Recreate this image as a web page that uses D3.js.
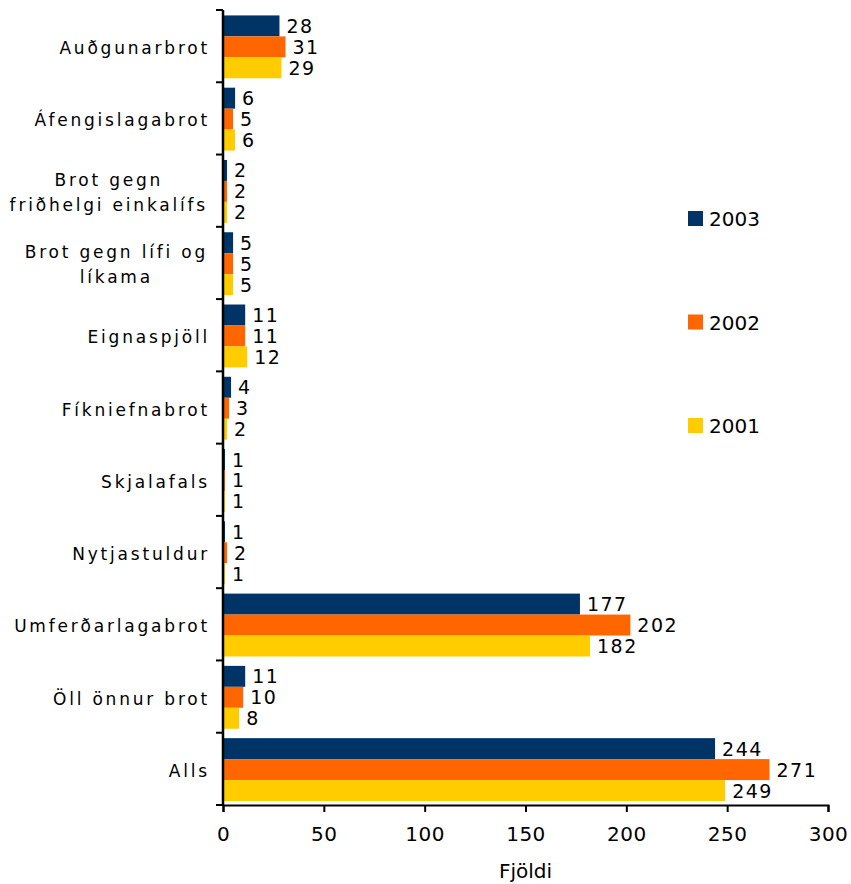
<!DOCTYPE html>
<html>
<head>
<meta charset="utf-8">
<script src="https://cdn.jsdelivr.net/npm/d3@7"></script>
<style>
  body { margin: 0; background: #fff; }
  text { font-family: 'DejaVu Sans', Verdana, sans-serif; fill: #000; }
</style>
</head>
<body>
<script>
const categories = ['Auðgunarbrot', 'Áfengislagabrot', 'Brot gegn\nfriðhelgi einkalífs', 'Brot gegn lífi og\nlíkama',
                    'Eignaspjöll', 'Fíkniefnabrot', 'Skjalafals', 'Nytjastuldur', 'Umferðarlagabrot', 'Öll önnur brot', 'Alls'];
const years = ['2003', '2002', '2001'];
const values2003 = [28, 6, 2, 5, 11, 4, 1, 1, 177, 11, 244],
      values2002 = [31, 5, 2, 5, 11, 3, 1, 2, 202, 10, 271],
      values2001 = [29, 6, 2, 5, 12, 2, 1, 1, 182, 8, 249];
const xTicks = [0, 50, 100, 150, 200, 250, 300];
const xTitle = 'Fjöldi';

const seriesValues = { '2003': values2003, '2002': values2002, '2001': values2001 };
const colors = { '2003': '#003366', '2002': '#ff6600', '2001': '#ffcc00' };

const width = 851,
      height = 884,
      plotLeft = 223,
      plotRight = 828,
      plotTop = 10,
      plotBottom = 805;

const x = d3.scaleLinear().domain([0, 300]).range([plotLeft, plotRight]);
const y0 = d3.scaleBand().domain(categories).range([plotTop, plotBottom]);
const y1 = d3.scaleBand().domain(years).range([y0.bandwidth() * 0.075, y0.bandwidth() * 0.945]);

const svg = d3.select('body').append('svg')
              .attr('width', width)
              .attr('height', height);

const rows = [];
categories.forEach(function(c, i) {
  years.forEach(function(yr) {
    rows.push({ cat: c, year: yr, value: seriesValues[yr][i] });
  });
});

svg.append('g').selectAll('rect')
   .data(rows)
   .enter()
   .append('rect')
   .attr('x', x(0))
   .attr('y', function(d) { return y0(d.cat) + y1(d.year); })
   .attr('width', function(d) { return x(d.value) - x(0); })
   .attr('height', y1.bandwidth())
   .attr('fill', function(d) { return colors[d.year]; });

svg.append('g').selectAll('text')
   .data(rows)
   .enter()
   .append('text')
   .attr('x', function(d) { return x(d.value) + 7; })
   .attr('y', function(d) { return y0(d.cat) + y1(d.year) + y1.bandwidth() / 2 + 7; })
   .style('font-size', '19px')
   .style('letter-spacing', '1.5px')
   .text(function(d) { return d.value; });

// left axis: only band boundary ticks
const yAxis = svg.append('g');
yAxis.append('line')
     .attr('x1', plotLeft).attr('x2', plotLeft)
     .attr('y1', plotTop).attr('y2', plotBottom)
     .attr('stroke', '#000').attr('stroke-width', 2.5);
const bounds = categories.map(function(c) { return y0(c); }).concat([plotBottom]);
yAxis.selectAll('.tk')
     .data(bounds)
     .enter()
     .append('line')
     .attr('x1', plotLeft - 7).attr('x2', plotLeft)
     .attr('y1', function(d) { return d; })
     .attr('y2', function(d) { return d; })
     .attr('stroke', '#000').attr('stroke-width', 2);

// category labels, multi-line ones centred as a block
const labels = svg.append('g');
categories.forEach(function(c) {
  const lines = c.split('\n');
  const cy = y0(c) + y0.bandwidth() / 2;
  const t = labels.append('text')
                  .style('font-size', '17px')
                  .style('letter-spacing', '2.8px');
  lines.forEach(function(l, i) {
    t.append('tspan')
     .attr('y', cy + 8 + (i - (lines.length - 1) / 2) * 25)
     .text(l);
  });
  let maxW = 0;
  t.selectAll('tspan').each(function() {
    maxW = Math.max(maxW, this.getComputedTextLength());
  });
  if (lines.length > 1) {
    t.attr('text-anchor', 'middle').selectAll('tspan').attr('x', 208 - maxW / 2);
  } else {
    t.attr('text-anchor', 'end').selectAll('tspan').attr('x', 210);
  }
});

// bottom axis
const xAxis = svg.append('g')
                 .attr('transform', 'translate(0,' + plotBottom + ')')
                 .call(d3.axisBottom(x).tickValues(xTicks).tickSizeOuter(0).tickSize(7).tickPadding(15));
xAxis.select('.domain').attr('stroke', '#000').attr('stroke-width', 2);
xAxis.selectAll('.tick line').attr('stroke', '#000').attr('stroke-width', 2);
xAxis.selectAll('.tick text')
     .style('font-size', '20px')
     .style('letter-spacing', '0.5px')
     .style('font-family', "'DejaVu Sans', Verdana, sans-serif")
     .attr('fill', '#000');

svg.append('text')
   .attr('x', (plotLeft + plotRight) / 2)
   .attr('y', 878)
   .attr('text-anchor', 'middle')
   .style('font-size', '20px')
   .text(xTitle);

// legend
const legend = svg.append('g');
const legItems = legend.selectAll('g')
                       .data(years)
                       .enter()
                       .append('g')
                       .attr('transform', function(d, i) { return 'translate(688,' + (211 + i * 103.5) + ')'; });
legItems.append('rect')
        .attr('width', 15).attr('height', 15)
        .attr('fill', function(d) { return colors[d]; });
legItems.append('text')
        .attr('x', 21).attr('y', 15)
        .style('font-size', '20px')
        .text(function(d) { return d; });
</script>
</body>
</html>
